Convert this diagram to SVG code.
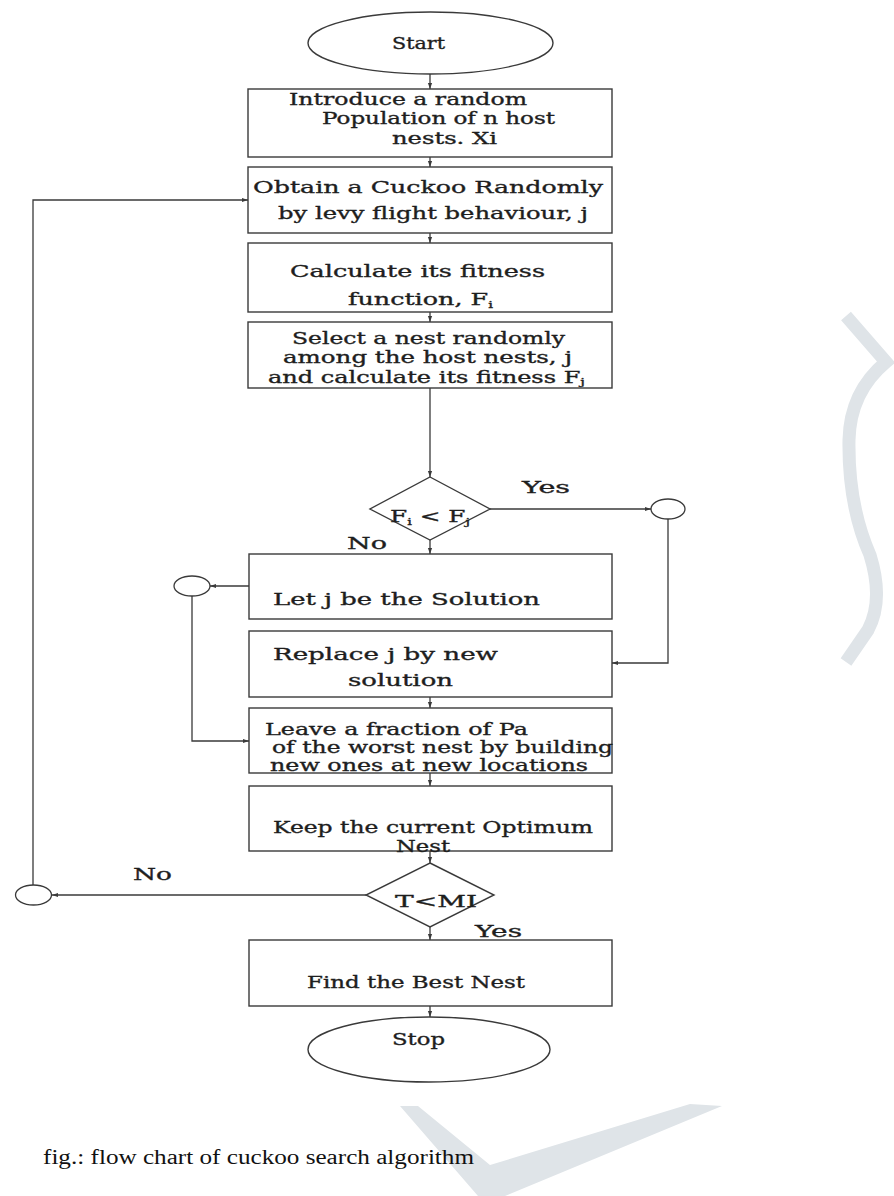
<svg xmlns="http://www.w3.org/2000/svg" width="894" height="1196" viewBox="0 0 894 1196">
<defs>
<style>
.box{fill:#fff;stroke:#3a3a3a;stroke-width:1.4}
.circ{fill:#fff;stroke:#3a3a3a;stroke-width:1.3}
.t{font-family:"DejaVu Serif","Liberation Serif",serif;font-size:17px;fill:#1e1e1e;stroke:#1e1e1e;stroke-width:0.35}
.s{font-size:16px}
.cap{font-family:"Liberation Serif","Times New Roman",serif;font-size:20px;fill:#111}
.c{fill:none;stroke:#3a3a3a;stroke-width:1.3}
.wm{fill:#dfe4e8}
.wms{fill:none;stroke:#dfe4e8;stroke-width:13}
</style>
<marker id="ah" markerUnits="userSpaceOnUse" viewBox="0 0 10 10" refX="10" refY="5" markerWidth="7" markerHeight="6" orient="auto"><path d="M0,1.5 L10,5 L0,8.5 z" fill="#3a3a3a"/></marker>
</defs>
<rect width="894" height="1196" fill="#fff"/>

<g id="watermark">
<path class="wms" d="M846,316 L886,362 Q850,392 849,440 Q848,505 870,555 Q884,600 868,630 L846,662"/>
<polygon class="wm" points="400,1106 418,1106 490,1165 690,1104 722,1106 505,1196 478,1196"/>
</g>

<g id="connectors">
<path class="c" d="M430,74 V89" marker-end="url(#ah)"/>
<path class="c" d="M430,157 V167" marker-end="url(#ah)"/>
<path class="c" d="M430,233 V243" marker-end="url(#ah)"/>
<path class="c" d="M430,312 V322" marker-end="url(#ah)"/>
<path class="c" d="M430,388 V477" marker-end="url(#ah)"/>
<path class="c" d="M430,540 V554" marker-end="url(#ah)"/>
<path class="c" d="M490,509 H651" marker-end="url(#ah)"/>
<path class="c" d="M668,519 V663 H612" marker-end="url(#ah)"/>
<path class="c" d="M249,586 H210" marker-end="url(#ah)"/>
<path class="c" d="M192,596 V741 H249" marker-end="url(#ah)"/>
<path class="c" d="M430,697 V708" marker-end="url(#ah)"/>
<path class="c" d="M430,773 V786" marker-end="url(#ah)"/>
<path class="c" d="M430,851 V863" marker-end="url(#ah)"/>
<path class="c" d="M366,895 H52" marker-end="url(#ah)"/>
<path class="c" d="M33,885 V200 H248" marker-end="url(#ah)"/>
<path class="c" d="M430,927 V940" marker-end="url(#ah)"/>
<path class="c" d="M430,1006 V1017" marker-end="url(#ah)"/>
<text class="t" x="522" y="493" textLength="48" lengthAdjust="spacingAndGlyphs">Yes</text>
<text class="t" x="347" y="549" textLength="40" lengthAdjust="spacingAndGlyphs">No</text>
<text class="t" x="133" y="880" textLength="39" lengthAdjust="spacingAndGlyphs">No</text>
<text class="t" x="475" y="937" textLength="47" lengthAdjust="spacingAndGlyphs">Yes</text>
</g>

<g id="start">
<ellipse class="box" cx="430.5" cy="43" rx="122.5" ry="31"/>
<text class="t" x="392" y="49" textLength="53" lengthAdjust="spacingAndGlyphs">Start</text>
</g>

<g id="init">
<rect class="box" x="248" y="89" width="364" height="68"/>
<text class="t s" x="289" y="105" textLength="238" lengthAdjust="spacingAndGlyphs">Introduce a random</text>
<text class="t s" x="322" y="124" textLength="233" lengthAdjust="spacingAndGlyphs">Population of n host</text>
<text class="t s" x="392" y="144" textLength="105" lengthAdjust="spacingAndGlyphs">nests. Xi</text>
</g>

<g id="obtain">
<rect class="box" x="248" y="167" width="364" height="66"/>
<text class="t" x="253" y="193" textLength="350" lengthAdjust="spacingAndGlyphs">Obtain a Cuckoo Randomly</text>
<text class="t" x="278" y="219" textLength="310" lengthAdjust="spacingAndGlyphs">by levy flight behaviour, j</text>
</g>

<g id="fitness">
<rect class="box" x="248" y="243" width="364" height="69"/>
<text class="t" x="290" y="277" textLength="255" lengthAdjust="spacingAndGlyphs">Calculate its fitness</text>
<text class="t" x="348" y="305" textLength="145" lengthAdjust="spacingAndGlyphs">function, F<tspan font-size="10" dy="3">i</tspan></text>
</g>

<g id="select">
<rect class="box" x="248" y="322" width="364" height="66"/>
<text class="t s" x="292" y="344" textLength="273" lengthAdjust="spacingAndGlyphs">Select a nest randomly</text>
<text class="t s" x="283" y="363" textLength="289" lengthAdjust="spacingAndGlyphs">among the host nests, j</text>
<text class="t s" x="268" y="383" textLength="317" lengthAdjust="spacingAndGlyphs">and calculate its fitness F<tspan font-size="10" dy="2">j</tspan></text>
</g>

<g id="decision1">
<polygon class="box" points="430,477 490,509 430,540 370,509"/>
<text class="t" x="390" y="522" textLength="80" lengthAdjust="spacingAndGlyphs">F<tspan font-size="10" dy="3">i</tspan><tspan dy="-3"> &lt; F</tspan><tspan font-size="10" dy="3">j</tspan></text>
</g>

<g id="conn-right">
<ellipse class="circ" cx="668" cy="509" rx="17" ry="10"/>
</g>

<g id="conn-mid">
<ellipse class="circ" cx="192" cy="586" rx="18" ry="10"/>
</g>

<g id="conn-left">
<ellipse class="circ" cx="33.5" cy="895" rx="18" ry="10"/>
</g>

<g id="letj">
<rect class="box" x="249" y="554" width="363" height="65"/>
<text class="t" x="273" y="605" textLength="267" lengthAdjust="spacingAndGlyphs">Let j be the Solution</text>
</g>

<g id="replace">
<rect class="box" x="249" y="631" width="363" height="66"/>
<text class="t" x="273" y="660" textLength="225" lengthAdjust="spacingAndGlyphs">Replace j by new</text>
<text class="t" x="348" y="686" textLength="105" lengthAdjust="spacingAndGlyphs">solution</text>
</g>

<g id="leave">
<rect class="box" x="249" y="708" width="363" height="65"/>
<text class="t s" x="265" y="735" textLength="263" lengthAdjust="spacingAndGlyphs">Leave a fraction of Pa</text>
<text class="t s" x="272" y="753" textLength="341" lengthAdjust="spacingAndGlyphs">of the worst nest by building</text>
<text class="t s" x="270" y="771" textLength="318" lengthAdjust="spacingAndGlyphs">new ones at new locations</text>
</g>

<g id="keep">
<rect class="box" x="249" y="786" width="363" height="65"/>
<text class="t" x="273" y="833" textLength="320" lengthAdjust="spacingAndGlyphs">Keep the current Optimum</text>
<text class="t" x="396" y="852" textLength="54" lengthAdjust="spacingAndGlyphs">Nest</text>
</g>

<g id="decision2">
<polygon class="box" points="430,863 494,895 430,927 366,895"/>
<text class="t" x="395" y="907" textLength="82" lengthAdjust="spacingAndGlyphs">T&lt;MI</text>
</g>

<g id="best">
<rect class="box" x="249" y="940" width="363" height="66"/>
<text class="t" x="307" y="988" textLength="218" lengthAdjust="spacingAndGlyphs">Find the Best Nest</text>
</g>

<g id="stop">
<ellipse class="box" cx="429" cy="1049.5" rx="121" ry="32.5"/>
<text class="t" x="392" y="1045" textLength="53" lengthAdjust="spacingAndGlyphs">Stop</text>
</g>

<g id="caption">
<text class="cap" x="43" y="1164" textLength="431" lengthAdjust="spacingAndGlyphs">fig.: flow chart of cuckoo search algorithm</text>
</g>
</svg>
